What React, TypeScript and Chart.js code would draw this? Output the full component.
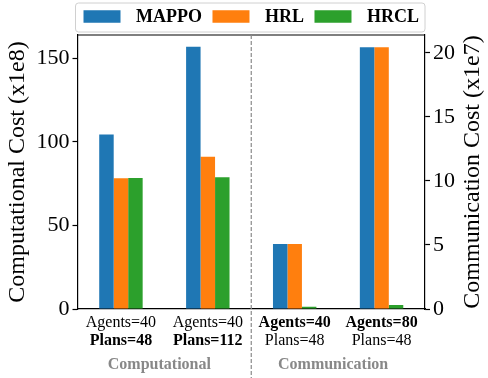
import React, { useEffect, useRef } from 'react';
import { Chart, registerables } from 'chart.js';

Chart.register(...registerables);

const SERIF = "'Liberation Serif', 'Times New Roman', Times, serif";

// ---- data ----
const agentsLabels = ['Agents=40', 'Agents=40', 'Agents=40', 'Agents=80'];
const plansLabels = ['Plans=48', 'Plans=112', 'Plans=48', 'Plans=48'];
const boldLine = [1, 1, 0, 0]; // which line of each tick label is bold (0 = agents, 1 = plans)
const groupLabels = ['Computational', 'Communication'];
const groupMembers = [[0, 1], [2, 3]];

const seriesNames = ['MAPPO', 'HRL', 'HRCL'];
const seriesColors = ['#1f77b4', '#ff7f0e', '#2ca02c'];

// computational cost (x1e8), left axis
const compMAPPO = [104.5, 157, null, null];
const compHRL = [78.3, 91.2, null, null];
const compHRCL = [78.4, 78.9, null, null];
// communication cost (x1e7), right axis
const commMAPPO = [null, null, 5.08, 20.45];
const commHRL = [null, null, 5.08, 20.45];
const commHRCL = [null, null, 0.18, 0.31];

const leftTicks = [0, 50, 100, 150];
const rightTicks = [0, 5, 10, 15, 20];
const leftMax = 164;
const rightMax = 21.4;
const leftTitle = 'Computational Cost (x1e8)';
const rightTitle = 'Communication Cost (x1e7)';

const decorPlugin = {
  id: 'decor',
  afterDatasetsDraw(chart: any) {
    const { ctx, chartArea } = chart;
    const xs = chart.scales.x;
    ctx.save();
    ctx.strokeStyle = '#000';
    ctx.lineWidth = 1.2;
    ctx.beginPath();
    ctx.moveTo(chartArea.left, chartArea.top);
    ctx.lineTo(chartArea.right, chartArea.top);
    ctx.stroke();
    const sepX = (xs.getPixelForValue(1) + xs.getPixelForValue(2)) / 2;
    ctx.strokeStyle = '#8a8a8a';
    ctx.setLineDash([4, 2]);
    ctx.lineWidth = 1.2;
    ctx.beginPath();
    ctx.moveTo(sepX, chartArea.top);
    ctx.lineTo(sepX, chart.height);
    ctx.stroke();
    ctx.restore();
  },
  afterDraw(chart: any) {
    const { ctx, chartArea } = chart;
    const xs = chart.scales.x;
    ctx.save();
    // x tick labels (two lines, mixed weight)
    ctx.fillStyle = '#000';
    ctx.textAlign = 'center';
    ctx.textBaseline = 'middle';
    agentsLabels.forEach((a, i) => {
      const px = xs.getPixelForValue(i);
      ctx.font = `${boldLine[i] === 0 ? 'bold ' : ''}16px ${SERIF}`;
      ctx.fillText(a, px, chartArea.bottom + 13.5);
      ctx.font = `${boldLine[i] === 1 ? 'bold ' : ''}16px ${SERIF}`;
      ctx.fillText(plansLabels[i], px, chartArea.bottom + 31.5);
    });
    // group labels
    ctx.font = `bold 16px ${SERIF}`;
    ctx.fillStyle = '#888888';
    groupLabels.forEach((g, k) => {
      const [a, b] = groupMembers[k];
      const px = (xs.getPixelForValue(a) + xs.getPixelForValue(b)) / 2 - 5;
      ctx.fillText(g, px, chartArea.bottom + 55.5);
    });
    // right axis title (reads upward)
    ctx.save();
    ctx.fillStyle = '#000';
    ctx.font = `24px ${SERIF}`;
    ctx.translate(chart.width - 15.5, (chartArea.top + chartArea.bottom) / 2);
    ctx.rotate(-Math.PI / 2);
    ctx.fillText(rightTitle, 0, 0);
    ctx.restore();
    // legend
    const frameL = chartArea.left - 2;
    const frameR = chartArea.right;
    const frameT = 3;
    const frameB = 32;
    ctx.beginPath();
    if ((ctx as any).roundRect) {
      (ctx as any).roundRect(frameL, frameT, frameR - frameL, frameB - frameT, 3);
    } else {
      ctx.rect(frameL, frameT, frameR - frameL, frameB - frameT);
    }
    ctx.fillStyle = 'rgba(255,255,255,0.85)';
    ctx.fill();
    ctx.strokeStyle = '#d0d0d0';
    ctx.lineWidth = 1;
    ctx.stroke();
    ctx.font = `bold 18px ${SERIF}`;
    const boxW = 37;
    const boxH = 12.5;
    const gap = 15.5;
    const spacing = 10.5;
    const widths = seriesNames.map((n) => boxW + gap + ctx.measureText(n).width);
    const total = widths.reduce((s, w) => s + w, 0) + spacing * (seriesNames.length - 1);
    let cx = (frameL + frameR) / 2 - total / 2 + 1;
    const cy = 16.5;
    ctx.textAlign = 'left';
    ctx.textBaseline = 'middle';
    seriesNames.forEach((n, k) => {
      ctx.fillStyle = seriesColors[k];
      ctx.fillRect(cx, cy - boxH / 2, boxW, boxH);
      ctx.fillStyle = '#000';
      ctx.fillText(n, cx + boxW + gap, cy + 0.5);
      cx += widths[k] + spacing;
    });
    ctx.restore();
  },
};

export default function App() {
  const canvasRef = useRef<HTMLCanvasElement | null>(null);

  useEffect(() => {
    if (!canvasRef.current) return;
    const mk = (label: string, data: (number | null)[], color: string, axis: string) => ({
      label,
      data,
      backgroundColor: color,
      borderWidth: 0,
      yAxisID: axis,
      categoryPercentage: 0.5,
      barPercentage: 1.0,
      skipNull: true,
    });
    const tickFont = { family: SERIF, size: 22 };
    const chart = new Chart(canvasRef.current, {
      type: 'bar',
      data: {
        labels: agentsLabels.map((a, i) => [a, plansLabels[i]]),
        datasets: [
          mk(seriesNames[0], compMAPPO, seriesColors[0], 'y'),
          mk(seriesNames[1], compHRL, seriesColors[1], 'y'),
          mk(seriesNames[2], compHRCL, seriesColors[2], 'y'),
          mk(seriesNames[0], commMAPPO, seriesColors[0], 'y1'),
          mk(seriesNames[1], commHRL, seriesColors[1], 'y1'),
          mk(seriesNames[2], commHRCL, seriesColors[2], 'y1'),
        ] as any,
      },
      options: {
        animation: false,
        responsive: true,
        maintainAspectRatio: false,
        layout: { padding: { top: 35, bottom: 69, left: 0, right: 0 } },
        plugins: {
          legend: { display: false },
          tooltip: { enabled: false },
        },
        scales: {
          x: {
            grid: { display: false, drawTicks: false },
            ticks: { display: false },
            border: { display: true, color: '#000', width: 1.2 },
          },
          y: {
            position: 'left',
            min: 0,
            max: leftMax,
            afterBuildTicks: (s: any) => {
              s.ticks = leftTicks.map((v) => ({ value: v }));
            },
            ticks: { font: tickFont, color: '#000', padding: 3 },
            grid: {
              display: true,
              drawOnChartArea: false,
              drawTicks: true,
              tickLength: 5,
              tickColor: '#000',
              tickWidth: 1.2,
            },
            border: { display: true, color: '#000', width: 1.2 },
            title: {
              display: true,
              text: leftTitle,
              color: '#000',
              font: { family: SERIF, size: 24 },
              padding: { top: 3, bottom: 1.7 },
            },
          },
          y1: {
            position: 'right',
            min: 0,
            max: rightMax,
            afterBuildTicks: (s: any) => {
              s.ticks = rightTicks.map((v) => ({ value: v }));
            },
            afterFit: (s: any) => {
              s.width += 30;
            },
            ticks: { font: tickFont, color: '#000', padding: 3 },
            grid: {
              display: true,
              drawOnChartArea: false,
              drawTicks: true,
              tickLength: 5,
              tickColor: '#000',
              tickWidth: 1.2,
            },
            border: { display: true, color: '#000', width: 1.2 },
          },
        },
      } as any,
      plugins: [decorPlugin],
    });
    return () => chart.destroy();
  }, []);

  return (
    <div style={{ position: 'fixed', left: 0, top: 0, width: 488, height: 378, background: '#fff' }}>
      <canvas ref={canvasRef} />
    </div>
  );
}
